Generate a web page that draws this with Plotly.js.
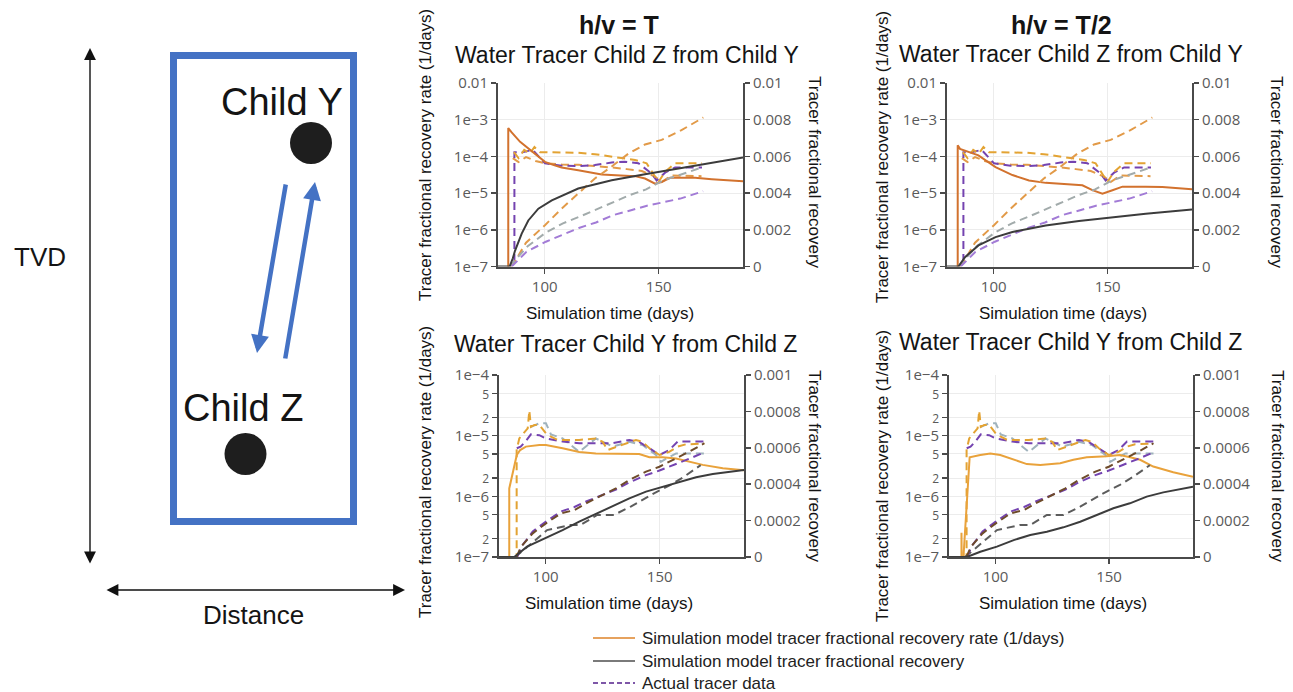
<!DOCTYPE html>
<html><head><meta charset="utf-8">
<script src="https://cdn.plot.ly/plotly-3.0.1.min.js"></script>
<style>html,body{margin:0;padding:0;background:#fff;overflow:hidden}#chart{width:1293px;height:692px}</style>
</head><body><div id="chart"></div>
<script>
// ---------------- DATA ----------------
// x ticks (simulation time, days)
const xTickVals = [100, 150];
const xTickText = ['100', '150'];
// tick labels
const topLogVals = [1e-7, 1e-6, 1e-5, 1e-4, 1e-3, 1e-2];
const topLogText = ['1e\u22127', '1e\u22126', '1e\u22125', '1e\u22124', '1e\u22123', '0.01'];
const topLinVals = [0, 0.002, 0.004, 0.006, 0.008, 0.01];
const topLinText = ['0', '0.002', '0.004', '0.006', '0.008', '0.01'];
const botLogVals = [1e-7, 2e-7, 5e-7, 1e-6, 2e-6, 5e-6, 1e-5, 2e-5, 5e-5, 1e-4];
const botLogText = ['1e\u22127', '2', '5', '1e\u22126', '2', '5', '1e\u22125', '2', '5', '1e\u22124'];
const botLinVals = [0, 0.0002, 0.0004, 0.0006, 0.0008, 0.001];
const botLinText = ['0', '0.0002', '0.0004', '0.0006', '0.0008', '0.001'];

// --- Top left (h/v = T): Child Z from Child Y, simulation ---
const simRateP1_x = [79.5, 84.0, 84.0, 85.5, 89.2, 92.8, 96.8, 100.1, 104.0, 107.4, 114.7, 125.0, 139.6, 144.0, 148.4, 151.3, 155.0, 166.0, 173.3, 187.0];
const simRateP1_y = [1e-9, 1e-9, 5.9e-4, 4.5e-4, 2.5e-4, 1.65e-4, 1.07e-4, 7.1e-5, 5.8e-5, 5.0e-5, 4.2e-5, 3.2e-5, 2.9e-5, 2.5e-5, 1.8e-5, 2.0e-5, 2.6e-5, 2.6e-5, 2.4e-5, 2.1e-5];
const simCumP1_x = [79.5, 84.6, 86.0, 87.0, 89.9, 92.8, 97.2, 103.1, 114.7, 129.4, 144.0, 158.6, 173.3, 187.0];
const simCumP1_y = [0, 0, 0.00045, 0.00087, 0.00179, 0.00251, 0.00315, 0.0036, 0.00425, 0.0047, 0.00503, 0.00534, 0.00565, 0.00594];

// --- Top right (h/v = T/2): Child Z from Child Y, simulation ---
const simRateP2_x = [79.5, 84.2, 84.2, 85.2, 93.3, 100.8, 108.2, 115.5, 122.8, 130.1, 138.9, 143.3, 147.7, 152.1, 156.5, 166.7, 174.0, 187.0];
const simRateP2_y = [1e-9, 1e-9, 2.0e-4, 1.6e-4, 1.07e-4, 5.1e-5, 3.1e-5, 2.2e-5, 1.9e-5, 1.74e-5, 1.63e-5, 1.2e-5, 9.7e-6, 1.2e-5, 1.5e-5, 1.5e-5, 1.47e-5, 1.27e-5];
const simCumP2_x = [79.5, 84.5, 87.4, 93.3, 100.8, 108.2, 115.5, 122.8, 137.4, 152.1, 166.7, 187.0];
const simCumP2_y = [0, 0, 0.00051, 0.00115, 0.0016, 0.00188, 0.00206, 0.00224, 0.00248, 0.0027, 0.00288, 0.0031];

// --- Top row actual tracer data (same field data in both columns) ---
const topRateGold_x = [86.5, 88.5, 91.0, 93.5, 95.5, 98.0, 100.8, 107.4, 114.7, 122.0, 129.4, 134.0, 139.6, 144.7, 149.9, 152.8, 157.2, 163.0, 169.0];
const topRateGold_y = [1.3e-4, 9.0e-5, 1.5e-4, 1.2e-4, 1.8e-4, 1.3e-4, 1.3e-4, 1.3e-4, 1.25e-4, 1.15e-4, 1.0e-4, 9.0e-5, 8.0e-5, 6.5e-5, 2.0e-5, 3.8e-5, 6.5e-5, 6.5e-5, 6.5e-5];
const topRatePurple_x = [86.7, 86.7, 90.3, 94.7, 100.1, 107.4, 114.7, 122.0, 129.4, 135.0, 141.1, 146.9, 149.1, 152.8, 157.2, 169.0];
const topRatePurple_y = [1e-9, 1.3e-4, 1.3e-4, 1.5e-4, 6.5e-5, 5.6e-5, 5.4e-5, 5.8e-5, 6.8e-5, 7.2e-5, 6.5e-5, 3.4e-5, 2.2e-5, 3.6e-5, 5.0e-5, 5.0e-5];
const topRateOrange_x = [86.0, 88.5, 91.8, 96.0, 100.1, 107.4, 114.7, 122.0, 129.4, 136.0, 142.6, 148.4, 151.3, 155.6, 162.0, 168.8];
const topRateOrange_y = [9.0e-5, 7.0e-5, 9.6e-5, 7.5e-5, 6.5e-5, 6.0e-5, 5.9e-5, 5.5e-5, 5.0e-5, 4.5e-5, 4.0e-5, 2.8e-5, 2.0e-5, 3.0e-5, 3.0e-5, 2.9e-5];
const topCumOrange_x = [85.0, 87.2, 91.8, 100.1, 107.4, 114.7, 122.0, 129.4, 136.7, 144.0, 151.3, 160.0, 169.6];
const topCumOrange_y = [0, 0.00033, 0.0013, 0.00225, 0.00315, 0.004, 0.0048, 0.00545, 0.00615, 0.00665, 0.0069, 0.00743, 0.00812];
const topCumGray_x = [84.5, 88.0, 92.5, 100.5, 108.0, 115.0, 122.5, 130.0, 137.5, 144.5, 152.0, 159.5, 169.0];
const topCumGray_y = [0, 0.0005, 0.0011, 0.00185, 0.00235, 0.0027, 0.0031, 0.0035, 0.0039, 0.0042, 0.0047, 0.005, 0.0054];
const topCumPurple_x = [85.5, 88.0, 92.0, 100.5, 108.0, 115.0, 122.5, 130.0, 137.5, 144.5, 152.0, 159.5, 169.5];
const topCumPurple_y = [0, 0.0003, 0.0008, 0.00135, 0.00175, 0.0021, 0.0024, 0.0028, 0.00305, 0.0033, 0.0035, 0.0037, 0.0041];

// --- Bottom left (h/v = T): Child Y from Child Z, simulation ---
const simRateP3_x = [79.5, 84.0, 84.0, 87.3, 88.8, 91.3, 97.2, 100.1, 107.4, 114.7, 122.0, 129.4, 136.7, 141.0, 145.5, 151.3, 157.2, 163.0, 168.9, 177.7, 187.0];
const simRateP3_y = [1e-9, 1e-9, 1.35e-6, 4.8e-6, 5.8e-6, 6.6e-6, 7.0e-6, 7.0e-6, 6.2e-6, 5.4e-6, 5.1e-6, 5.1e-6, 5.1e-6, 5.0e-6, 4.4e-6, 4.4e-6, 4.2e-6, 3.7e-6, 3.3e-6, 2.9e-6, 2.7e-6];
const simCumP3_x = [79.5, 86.2, 91.8, 100.1, 107.4, 114.7, 122.0, 129.4, 136.7, 144.0, 151.3, 158.6, 166.0, 173.3, 187.0];
const simCumP3_y = [0, 0, 5.7e-5, 1.03e-4, 1.48e-4, 1.94e-4, 2.36e-4, 2.8e-4, 3.22e-4, 3.59e-4, 3.86e-4, 4.14e-4, 4.38e-4, 4.56e-4, 4.78e-4];

// --- Bottom right (h/v = T/2): Child Y from Child Z, simulation ---
const simRateP4_x = [79.5, 85.0, 85.0, 85.5, 86.0, 88.6, 93.3, 97.7, 102.1, 108.0, 113.8, 119.7, 128.5, 134.3, 140.2, 149.0, 154.8, 159.3, 163.7, 169.5, 178.3, 187.0];
const simRateP4_y = [1e-9, 1e-9, 2.5e-7, 1e-9, 1.2e-7, 4.4e-6, 4.8e-6, 5.1e-6, 4.8e-6, 4.0e-6, 3.4e-6, 3.3e-6, 3.5e-6, 4.0e-6, 4.4e-6, 4.6e-6, 4.8e-6, 4.4e-6, 4.0e-6, 3.1e-6, 2.5e-6, 2.1e-6];
const simCumP4_x = [79.5, 87.4, 93.3, 100.6, 108.0, 115.3, 122.6, 129.9, 137.3, 144.6, 151.9, 159.2, 166.6, 173.9, 181.2, 187.0];
const simCumP4_y = [0, 0, 2.9e-5, 5.7e-5, 9.3e-5, 1.21e-4, 1.39e-4, 1.63e-4, 1.94e-4, 2.31e-4, 2.68e-4, 2.95e-4, 3.32e-4, 3.55e-4, 3.72e-4, 3.86e-4];

// --- Bottom row actual tracer data (same field data in both columns) ---
const botRateGold_x = [87.25, 87.25, 88.4, 90.6, 92.1, 92.8, 93.5, 95.0, 97.2, 100.1, 102.3, 105.2, 114.7, 122.0, 125.0, 127.2, 133.0, 139.6, 142.5, 145.5, 149.9, 154.2, 157.9, 161.5, 169.6];
const botRateGold_y = [1e-9, 5.8e-6, 9.0e-6, 1.16e-5, 1.32e-5, 2.6e-5, 1.4e-5, 1.5e-5, 1.5e-5, 1.09e-5, 9.6e-6, 8.5e-6, 8.5e-6, 9.0e-6, 7.9e-6, 5.8e-6, 7.0e-6, 8.5e-6, 7.9e-6, 6.2e-6, 4.8e-6, 5.4e-6, 6.6e-6, 7.2e-6, 7.4e-6];
const botRateGray_x = [93.5, 97.2, 100.1, 102.3, 107.4, 114.7, 122.0, 129.4, 136.7, 142.5, 148.4, 150.5, 153.0, 157.2, 169.6];
const botRateGray_y = [1.4e-5, 1.6e-5, 1.6e-5, 1.05e-5, 9.0e-6, 5.4e-6, 9.0e-6, 6.6e-6, 7.9e-6, 7.0e-6, 4.8e-6, 3.7e-6, 4.2e-6, 5.1e-6, 5.1e-6];
const botRatePurple_x = [87.3, 89.0, 91.0, 93.5, 97.2, 100.1, 107.4, 114.7, 122.0, 129.4, 136.7, 141.0, 145.5, 149.9, 154.2, 157.9, 169.6];
const botRatePurple_y = [6.2e-6, 6.6e-6, 7.9e-6, 1.05e-5, 1.02e-5, 9.0e-6, 8.0e-6, 7.5e-6, 7.5e-6, 7.5e-6, 8.5e-6, 7.9e-6, 6.2e-6, 4.8e-6, 5.8e-6, 8.0e-6, 8.0e-6];
const botCumBrown_x = [87.2, 89.2, 94.3, 100.1, 106.7, 112.6, 117.7, 125.0, 130.8, 136.7, 144.0, 149.9, 157.2, 163.0, 169.6];
const botCumBrown_y = [0, 5.7e-5, 1.3e-4, 1.85e-4, 2.4e-4, 2.58e-4, 2.95e-4, 3.41e-4, 3.77e-4, 4.23e-4, 4.69e-4, 4.96e-4, 5.42e-4, 5.79e-4, 6.25e-4];
const botCumPurple_x = [87.5, 89.5, 94.3, 100.1, 106.7, 112.6, 117.7, 125.0, 130.8, 136.7, 144.0, 149.9, 157.2, 163.0, 169.6];
const botCumPurple_y = [0, 6.0e-5, 1.4e-4, 1.95e-4, 2.5e-4, 2.75e-4, 3.05e-4, 3.4e-4, 3.7e-4, 4.1e-4, 4.5e-4, 4.75e-4, 5.1e-4, 5.4e-4, 5.75e-4];
const botCumGray_x = [86.5, 90.3, 100.6, 110.8, 115.3, 122.6, 129.9, 137.3, 147.5, 154.8, 160.7, 168.0];
const botCumGray_y = [0, 3.8e-5, 1.48e-4, 1.76e-4, 1.76e-4, 2.31e-4, 2.31e-4, 2.77e-4, 3.5e-4, 3.96e-4, 4.41e-4, 5.05e-4];

// legend labels
const legendNames = ['Simulation model tracer fractional recovery rate (1/days)', 'Simulation model tracer fractional recovery', 'Actual tracer data'];

// ---------------- STYLE / LAYOUT ----------------
const W = 1293, H = 692;
const fx = p => p / W, fy = p => 1 - p / H;
const FONT = 'Liberation Sans, Arial, sans-serif';
const TICKFONT = 'Open Sans, sans-serif';
const AX = '#4a4a4a', TC = '#5a5a5a', GRID = '#ececec';
const BLUE = '#4472C4';
const C = {
  simRateTop: '#D2722E', simRateBot: '#E9A23B', simCum: '#3c3c3c',
  gold: '#E3A333', orange: '#E29A48', purple: '#7443B0', lpurple: '#A27BD6',
  gray: '#A2ABAB', grayblue: '#9FB2BC', dgray: '#5c5c5c', brown: '#6E4B2A'
};
const DASH = '8px,5px';

const traces = [];
function addLine(x, y, xa, ya, color, dash, name) {
  traces.push({
    type: 'scatter', mode: 'lines', x: x, y: y, xaxis: xa, yaxis: ya, name: name || '',
    line: {color: color, width: 2, dash: dash || 'solid'},
    hoverinfo: 'skip', showlegend: false
  });
}

// panels: [xaxis, leftY, rightY]
const P = [['x', 'y', 'y2'], ['x2', 'y3', 'y4'], ['x3', 'y5', 'y6'], ['x4', 'y7', 'y8']];

// top row actual data in both columns
[0, 1].forEach(i => {
  const [xa, yl, yr] = P[i];
  addLine(topCumOrange_x, topCumOrange_y, xa, yr, C.orange, DASH, legendNames[2]);
  addLine(topCumGray_x, topCumGray_y, xa, yr, C.gray, DASH, legendNames[2]);
  addLine(topCumPurple_x, topCumPurple_y, xa, yr, C.lpurple, DASH, legendNames[2]);
  addLine(topRateOrange_x, topRateOrange_y, xa, yl, C.orange, DASH, legendNames[2]);
  addLine(topRatePurple_x, topRatePurple_y, xa, yl, C.purple, DASH, legendNames[2]);
  addLine(topRateGold_x, topRateGold_y, xa, yl, C.gold, DASH, legendNames[2]);
});
// bottom row actual data in both columns
[2, 3].forEach(i => {
  const [xa, yl, yr] = P[i];
  addLine(botCumGray_x, botCumGray_y, xa, yr, C.dgray, DASH, legendNames[2]);
  addLine(botCumPurple_x, botCumPurple_y, xa, yr, C.purple, DASH, legendNames[2]);
  addLine(botCumBrown_x, botCumBrown_y, xa, yr, C.brown, DASH, legendNames[2]);
  addLine(botRateGray_x, botRateGray_y, xa, yl, C.grayblue, DASH, legendNames[2]);
  addLine(botRatePurple_x, botRatePurple_y, xa, yl, C.purple, DASH, legendNames[2]);
  addLine(botRateGold_x, botRateGold_y, xa, yl, C.gold, DASH, legendNames[2]);
});
// simulation curves
addLine(simRateP1_x, simRateP1_y, 'x', 'y', C.simRateTop, 'solid', legendNames[0]);
addLine(simCumP1_x, simCumP1_y, 'x', 'y2', C.simCum, 'solid', legendNames[1]);
addLine(simRateP2_x, simRateP2_y, 'x2', 'y3', C.simRateTop, 'solid', legendNames[0]);
addLine(simCumP2_x, simCumP2_y, 'x2', 'y4', C.simCum, 'solid', legendNames[1]);
addLine(simRateP3_x, simRateP3_y, 'x3', 'y5', C.simRateBot, 'solid', legendNames[0]);
addLine(simCumP3_x, simCumP3_y, 'x3', 'y6', C.simCum, 'solid', legendNames[1]);
addLine(simRateP4_x, simRateP4_y, 'x4', 'y7', C.simRateBot, 'solid', legendNames[0]);
addLine(simCumP4_x, simCumP4_y, 'x4', 'y8', C.simCum, 'solid', legendNames[1]);

const tickfont = {family: TICKFONT, size: 15, color: TC};
function xAxis(d0, d1, anchor) {
  return {domain: [fx(d0), fx(d1)], anchor: anchor, range: [79.5, 187],
    tickvals: xTickVals, ticktext: xTickText, showline: true, linecolor: AX, linewidth: 2,
    ticks: 'outside', ticklen: 5, tickwidth: 1.5, tickcolor: AX, tickfont: tickfont,
    showgrid: true, gridcolor: GRID, gridwidth: 1, zeroline: false, fixedrange: true, automargin: false};
}
function logAxis(top, bot, anchor, range, vals, text) {
  return {domain: [fy(bot), fy(top)], anchor: anchor, type: 'log', range: range,
    tickvals: vals, ticktext: text, showline: true, linecolor: AX, linewidth: 2,
    ticks: 'outside', ticklen: 5, tickwidth: 1.5, tickcolor: AX, tickfont: tickfont,
    showgrid: true, gridcolor: GRID, gridwidth: 1, zeroline: false, fixedrange: true, automargin: false};
}
function linAxis(over, anchor, range, vals, text) {
  return {overlaying: over, side: 'right', anchor: anchor, range: range,
    tickvals: vals, ticktext: text, showline: true, linecolor: AX, linewidth: 2,
    ticks: 'outside', ticklen: 5, tickwidth: 1.5, tickcolor: AX, tickfont: tickfont,
    showgrid: false, zeroline: false, fixedrange: true, automargin: false};
}
const small = t => (t === '2' || t === '5') ? '<span style="font-size:12px">' + t + '</span>' : t;
const botLogTextS = botLogText.map(small);

const ann = [];
function txt(text, x, y, size, o) {
  ann.push(Object.assign({text: text, x: fx(x), y: fy(y), xref: 'paper', yref: 'paper',
    xanchor: 'center', yanchor: 'middle', showarrow: false,
    font: {family: FONT, size: size, color: '#141414'}}, o || {}));
}
// column headings & subplot titles
txt('<b>h/v = T</b>', 619, 25, 25);
txt('<b>h/v = T/2</b>', 1061, 25, 25);
txt('Water Tracer Child Z from Child Y', 627, 55, 23);
txt('Water Tracer Child Z from Child Y', 1071, 54, 23);
txt('Water Tracer Child Y from Child Z', 625, 344, 23);
txt('Water Tracer Child Y from Child Z', 1070, 342, 23);
// axis titles
[[610, 313], [1063, 313], [609, 603], [1063, 603]].forEach(p => txt('Simulation time (days)', p[0], p[1], 17));
[[425, 155], [882, 157], [425, 472], [882, 476]].forEach(p => txt('Tracer fractional recovery rate (1/days)', p[0], p[1], 17, {textangle: -90}));
[[815, 172], [1277, 172], [815, 466], [1278, 466]].forEach(p => txt('Tracer fractional recovery', p[0], p[1], 17, {textangle: 90}));
// schematic labels
txt('Child Y', 282, 102, 38);
txt('Child Z', 243, 408, 38);
txt('TVD', 40, 257, 26);
txt('Distance', 253, 615, 26);
// schematic arrows
function arrow(hx, hy, tx, ty, color, width, size, both) {
  const a = {x: fx(hx), y: fy(hy), xref: 'paper', yref: 'paper', text: '', showarrow: true,
    ax: tx - hx, ay: ty - hy, arrowhead: 2, arrowsize: size, arrowwidth: width,
    arrowcolor: color, standoff: 0, startstandoff: 0};
  if (both) { a.arrowside = 'end+start'; a.startarrowhead = 2; a.startarrowsize = size; }
  ann.push(a);
}
arrow(257, 353, 286, 183, BLUE, 4.5, 0.8);
arrow(315, 182, 285, 360, BLUE, 4.5, 0.8);
arrow(90, 48, 90, 565, '#111', 1.4, 1.7, true);
arrow(405, 590, 105, 590, '#111', 1.4, 1.7, true);

const shapes = [
  {type: 'rect', xref: 'paper', yref: 'paper', x0: fx(173.5), x1: fx(353.5), y0: fy(521.5), y1: fy(55.5),
    line: {color: BLUE, width: 7}, fillcolor: 'rgba(0,0,0,0)'},
  {type: 'circle', xref: 'paper', yref: 'paper', x0: fx(290), x1: fx(332), y0: fy(164), y1: fy(122),
    fillcolor: '#1e1e1e', line: {width: 0}},
  {type: 'circle', xref: 'paper', yref: 'paper', x0: fx(224.5), x1: fx(266.5), y0: fy(475), y1: fy(433),
    fillcolor: '#1e1e1e', line: {width: 0}}
];
// legend (key) below the panels
const legendStyle = [
  {color: '#E6A25E', dash: 'solid'},
  {color: '#7a7a7a', dash: 'solid'},
  {color: '#7E57A8', dash: '5px,3px'}
];
[638, 661, 683].forEach((yy, i) => {
  shapes.push({type: 'line', xref: 'paper', yref: 'paper', x0: fx(593), x1: fx(635), y0: fy(yy), y1: fy(yy),
    line: {color: legendStyle[i].color, width: 2, dash: legendStyle[i].dash}});
  txt(legendNames[i], 640, yy, 17, {xanchor: 'left', font: {family: FONT, size: 17, color: '#222'}});
});

const layout = {
  width: W, height: H, margin: {l: 0, r: 0, t: 0, b: 0, pad: 0, autoexpand: false},
  paper_bgcolor: '#fff', plot_bgcolor: '#fff',
  font: {family: FONT, color: '#141414'},
  showlegend: false,
  xaxis: xAxis(498, 743, 'y'),
  xaxis2: xAxis(947, 1192, 'y3'),
  xaxis3: xAxis(499, 744, 'y5'),
  xaxis4: xAxis(949, 1193, 'y7'),
  yaxis: logAxis(83, 266.5, 'x', [-7, -2], topLogVals, topLogText),
  yaxis2: linAxis('y', 'x', [0, 0.01], topLinVals, topLinText),
  yaxis3: logAxis(83, 266.5, 'x2', [-7, -2], topLogVals, topLogText),
  yaxis4: linAxis('y3', 'x2', [0, 0.01], topLinVals, topLinText),
  yaxis5: logAxis(375, 557, 'x3', [-7, -4], botLogVals, botLogTextS),
  yaxis6: linAxis('y5', 'x3', [0, 0.001], botLinVals, botLinText),
  yaxis7: logAxis(375, 557, 'x4', [-7, -4], botLogVals, botLogTextS),
  yaxis8: linAxis('y7', 'x4', [0, 0.001], botLinVals, botLinText),
  annotations: ann, shapes: shapes
};
Plotly.newPlot('chart', traces, layout, {displayModeBar: false, staticPlot: true});
</script></body></html>
